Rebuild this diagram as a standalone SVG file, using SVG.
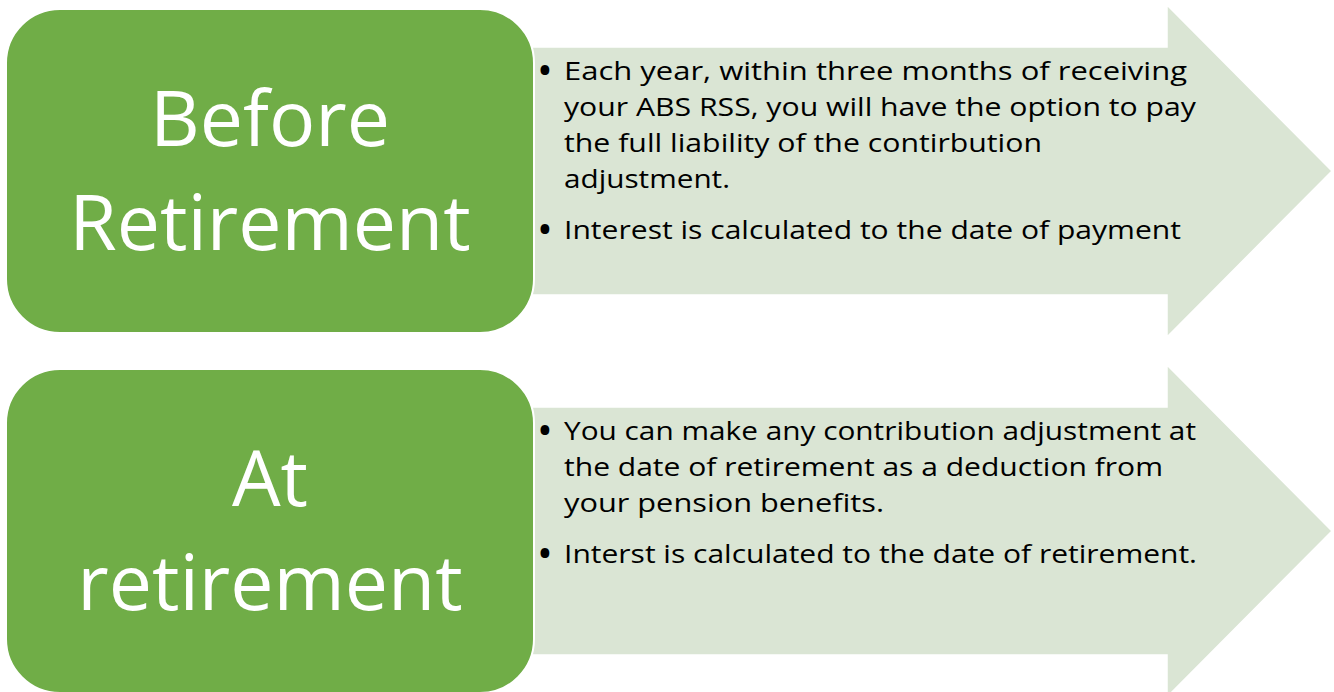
<svg xmlns="http://www.w3.org/2000/svg" width="1334" height="692" viewBox="0 0 1334 692">
<defs>
<style>
.arrow{fill:#DAE5D4;stroke:#ffffff;stroke-width:1.5}
.box{fill:#70AD47;stroke:#ffffff;stroke-width:2}
.lbl{font-family:"Open Sans","Liberation Sans",sans-serif;font-size:77px;fill:#ffffff;text-anchor:middle}
.txt{font-family:"Open Sans","Liberation Sans",sans-serif;font-size:26px;fill:#000000}
.bul{font-family:"Open Sans","Liberation Sans",sans-serif;font-size:42px;fill:#000000}
</style>
</defs>
<rect width="1334" height="692" fill="#ffffff"/>
<g id="connectors"></g>
<g id="node-before">
<polygon class="arrow" points="520,47 1167,47 1167,5 1332,171 1167,337 1167,295 520,295"/>
<rect class="box" x="6" y="9" width="528" height="324" rx="54" ry="54"/>
<text class="lbl" x="270" y="146">Before</text>
<text class="lbl" x="270" y="250">Retirement</text>
<text class="bul" x="537" y="85">•</text>
<text class="txt" x="564" y="80" textLength="623" lengthAdjust="spacingAndGlyphs">Each year, within three months of receiving</text>
<text class="txt" x="564" y="116" textLength="632" lengthAdjust="spacingAndGlyphs">your ABS RSS, you will have the option to pay</text>
<text class="txt" x="564" y="152" textLength="478" lengthAdjust="spacingAndGlyphs">the full liability of the contirbution</text>
<text class="txt" x="564" y="188" textLength="166" lengthAdjust="spacingAndGlyphs">adjustment.</text>
<text class="bul" x="537" y="244">•</text>
<text class="txt" x="564" y="239" textLength="617" lengthAdjust="spacingAndGlyphs">Interest is calculated to the date of payment</text>
</g>
<g id="node-at">
<polygon class="arrow" points="520,407 1167,407 1167,365 1332,531 1167,697 1167,655 520,655"/>
<rect class="box" x="6" y="369" width="528" height="324" rx="54" ry="54"/>
<text class="lbl" x="270" y="506">At</text>
<text class="lbl" x="270" y="610">retirement</text>
<text class="bul" x="537" y="445">•</text>
<text class="txt" x="564" y="440" textLength="632" lengthAdjust="spacingAndGlyphs">You can make any contribution adjustment at</text>
<text class="txt" x="564" y="476" textLength="599" lengthAdjust="spacingAndGlyphs">the date of retirement as a deduction from</text>
<text class="txt" x="564" y="512" textLength="320" lengthAdjust="spacingAndGlyphs">your pension benefits.</text>
<text class="bul" x="537" y="568">•</text>
<text class="txt" x="564" y="563" textLength="633" lengthAdjust="spacingAndGlyphs">Interst is calculated to the date of retirement.</text>
</g>
</svg>
